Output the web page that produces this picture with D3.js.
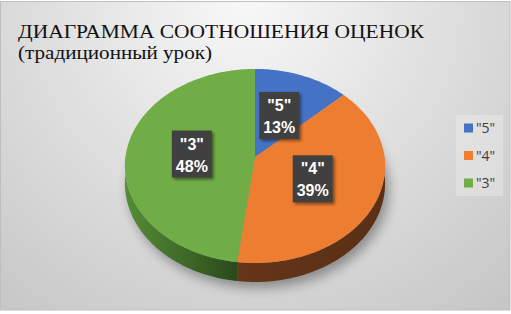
<!DOCTYPE html>
<html>
<head>
<meta charset="utf-8">
<script src="https://cdn.jsdelivr.net/npm/d3@7"></script>
<style>
  html, body { margin: 0; padding: 0; background: #fff; }
  svg { display: block; }
  .title { font-family: "Liberation Serif", "Times New Roman", Times, "DejaVu Serif", serif; }
</style>
</head>
<body>
<script>
(function () {
  'use strict';

  // data
  const categories = ['"5"', '"4"', '"3"'];
  const values = [13, 39, 48];
  const titleLines = ['ДИАГРАММА СООТНОШЕНИЯ ОЦЕНОК', '(традиционный урок)'];

  const topColors  = ['#4472c4', '#ed7d31', '#70ad47'];
  const sideDark   = ['#203864', '#5a2f14', '#2b4a1b'];
  const sideLight  = ['#2f5597', '#64361a', '#558c37'];

  const W = 511, H = 314;

  const svg = d3.select('body')
    .append('svg')
    .attr('width', W)
    .attr('height', H);

  const defs = svg.append('defs');

  const bg = defs.append('radialGradient')
    .attr('id', 'bg')
    .attr('gradientUnits', 'userSpaceOnUse')
    .attr('cx', 245).attr('cy', 0).attr('r', 400);
  bg.append('stop').attr('offset', 0).attr('stop-color', '#f8f8f8');
  bg.append('stop').attr('offset', 1).attr('stop-color', '#c6c6c6');

  defs.append('filter').attr('id', 'blur')
    .attr('x', '-30%').attr('y', '-30%').attr('width', '160%').attr('height', '160%')
    .append('feGaussianBlur').attr('stdDeviation', 6);

  const boxShadow = defs.append('filter').attr('id', 'boxsh')
    .attr('x', '-30%').attr('y', '-30%').attr('width', '160%').attr('height', '160%');
  boxShadow.append('feDropShadow')
    .attr('dx', 2).attr('dy', 2).attr('stdDeviation', 1.5)
    .attr('flood-color', '#000').attr('flood-opacity', 0.45);

  // chart area
  svg.append('rect')
    .attr('x', 0.5).attr('y', 1.5)
    .attr('width', W - 1.5).attr('height', 308.5)
    .attr('fill', 'url(#bg)')
    .attr('stroke', '#bfbfbf');

  // title, two lines
  const titleWidths = [406, 194];
  svg.selectAll('text.title')
    .data(titleLines)
    .enter()
    .append('text')
    .attr('class', 'title')
    .attr('x', 18)
    .attr('y', (d, i) => i === 0 ? 38 : 58.5)
    .attr('font-size', (d, i) => i === 0 ? 19 : 18)
    .attr('textLength', (d, i) => titleWidths[i])
    .attr('lengthAdjust', 'spacingAndGlyphs')
    .attr('fill', '#111')
    .text(d => d);

  // 3d pie projection (slight perspective)
  const cx = 255, cy = 157;
  const A = 129.5, B = 96.2, k = 0.0927, depth = 17.2;

  function proj(a, r, down) {
    const u = r * Math.sin(a);
    const v = -r * Math.cos(a);
    const s = 1 / (1 - k * v);
    return [cx + A * u * s, cy + B * v * s + (down ? depth * s : 0)];
  }

  function rim(a0, a1, down) {
    const n = Math.max(2, Math.ceil((a1 - a0) / 0.02));
    return d3.range(n + 1).map(i => proj(a0 + (a1 - a0) * i / n, 1, down));
  }

  const pie = d3.pie().sort(null).value(d => d)(values);
  const total = d3.sum(values);
  const pct = d3.format('.0%');
  const line = d3.line();

  // soft shadow under the pie
  svg.append('path')
    .attr('d', line(rim(0, 2 * Math.PI, true)) + 'Z')
    .attr('transform', 'translate(4,6)')
    .attr('fill', '#000')
    .attr('opacity', 0.35)
    .attr('filter', 'url(#blur)');

  // side walls (front half only)
  pie.forEach((d, i) => {
    const a0 = Math.max(d.startAngle, Math.PI / 2);
    const a1 = Math.min(d.endAngle, 3 * Math.PI / 2);
    if (a0 >= a1) return;
    const p0 = proj(a0, 1, false), p1 = proj(a1, 1, false);
    const g = defs.append('linearGradient')
      .attr('id', 'side' + i)
      .attr('gradientUnits', 'userSpaceOnUse')
      .attr('x1', p1[0]).attr('y1', 0)
      .attr('x2', p0[0]).attr('y2', 0);
    g.append('stop').attr('offset', 0).attr('stop-color', sideLight[i]);
    g.append('stop').attr('offset', 1).attr('stop-color', sideDark[i]);
    const pts = rim(a0, a1, false).concat(rim(a0, a1, true).reverse());
    svg.append('path')
      .attr('d', line(pts) + 'Z')
      .attr('fill', 'url(#side' + i + ')');
  });

  // top face
  svg.append('g').selectAll('path')
    .data(pie)
    .enter()
    .append('path')
    .attr('d', d => line([proj(0, 0, false)].concat(rim(d.startAngle, d.endAngle, false))) + 'Z')
    .attr('fill', (d, i) => topColors[i]);

  // data labels
  const labels = svg.append('g').selectAll('g')
    .data(pie)
    .enter()
    .append('g')
    .attr('transform', d => {
      const p = proj((d.startAngle + d.endAngle) / 2, 0.49, false);
      return `translate(${p[0]},${p[1]})`;
    });

  labels.append('rect')
    .attr('x', -20).attr('y', -23.5)
    .attr('width', 40).attr('height', 47)
    .attr('fill', '#404040')
    .attr('filter', 'url(#boxsh)');

  labels.append('text')
    .attr('text-anchor', 'middle')
    .attr('font-family', '"Liberation Sans", Arial, sans-serif')
    .attr('font-weight', 'bold')
    .attr('font-size', 16)
    .attr('fill', '#fff')
    .selectAll('tspan')
    .data((d, i) => [categories[i], pct(d.value / total)])
    .enter()
    .append('tspan')
    .attr('x', 0)
    .attr('y', (t, j) => j === 0 ? -4.5 : 17.5)
    .text(t => t);

  // legend
  const legend = svg.append('g');
  legend.append('rect')
    .attr('x', 456).attr('y', 115)
    .attr('width', 47).attr('height', 81)
    .attr('fill', '#fff')
    .attr('opacity', 0.25);

  const items = legend.selectAll('g.item')
    .data(categories)
    .enter()
    .append('g')
    .attr('class', 'item')
    .attr('transform', (d, i) => `translate(464,${128 + i * 27.5})`);

  items.append('rect')
    .attr('x', 0).attr('y', -4.5)
    .attr('width', 9).attr('height', 9)
    .attr('fill', (d, i) => topColors[i]);

  items.append('text')
    .attr('x', 12).attr('y', 5)
    .attr('font-family', '"Open Sans", sans-serif')
    .attr('font-size', 14)
    .attr('fill', '#404040')
    .text(d => d);
})();
</script>
</body>
</html>
